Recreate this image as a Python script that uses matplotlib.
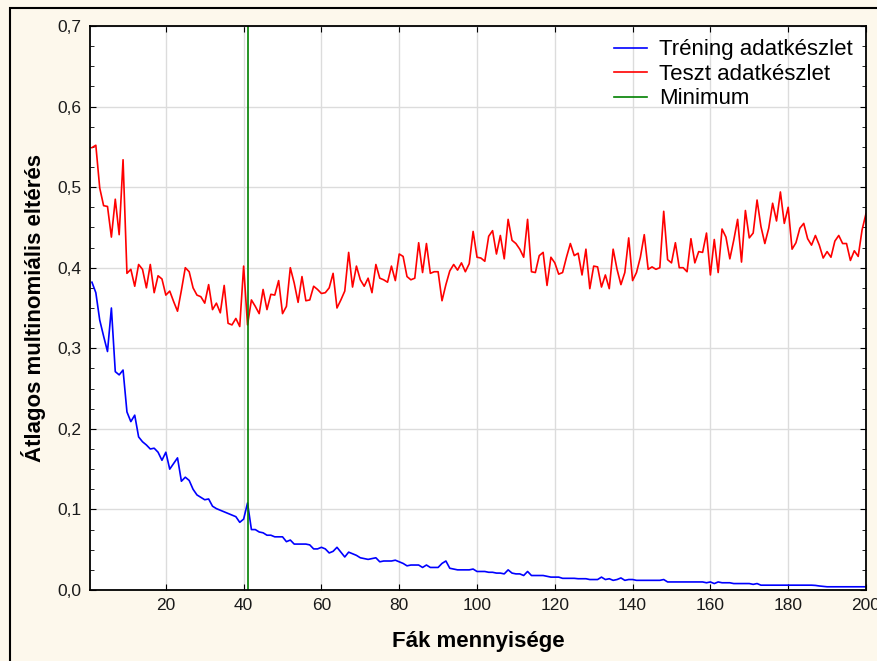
import numpy as np
import matplotlib.pyplot as plt
from matplotlib.ticker import FixedLocator, FuncFormatter, MultipleLocator
from matplotlib.patches import Rectangle

plt.rcParams['font.family'] = ['Liberation Sans', 'DejaVu Sans']

# number of trees in the forest
trees = list(range(1, 201))

# mean multinomial deviance on the training set
train = [0.382, 0.369, 0.335, 0.315, 0.296, 0.350, 0.271, 0.267, 0.273, 0.221,
         0.209, 0.217, 0.190, 0.184, 0.180, 0.175, 0.176, 0.171, 0.161, 0.171,
         0.150, 0.157, 0.164, 0.135, 0.140, 0.136, 0.125, 0.118, 0.115, 0.112,
         0.113, 0.104, 0.101, 0.099, 0.097, 0.095, 0.093, 0.091, 0.084, 0.088,
         0.108, 0.075, 0.075, 0.072, 0.071, 0.068, 0.068, 0.066, 0.066, 0.066,
         0.060, 0.062, 0.057, 0.057, 0.057, 0.057, 0.056, 0.051, 0.051, 0.053,
         0.051, 0.046, 0.048, 0.053, 0.047, 0.041, 0.047, 0.045, 0.043, 0.040,
         0.039, 0.038, 0.039, 0.040, 0.035, 0.036, 0.036, 0.036, 0.037, 0.035,
         0.033, 0.030, 0.031, 0.031, 0.031, 0.028, 0.031, 0.028, 0.028, 0.028,
         0.033, 0.036, 0.027, 0.026, 0.025, 0.025, 0.025, 0.025, 0.026, 0.023,
         0.023, 0.023, 0.022, 0.022, 0.021, 0.021, 0.020, 0.025, 0.021, 0.020,
         0.020, 0.018, 0.023, 0.018, 0.018, 0.018, 0.018, 0.017, 0.016, 0.016,
         0.016, 0.0145, 0.0145, 0.0145, 0.0145, 0.014, 0.014, 0.014, 0.013, 0.013,
         0.013, 0.016, 0.013, 0.014, 0.012, 0.013, 0.015, 0.012, 0.013, 0.013,
         0.012, 0.012, 0.012, 0.012, 0.012, 0.012, 0.012, 0.013, 0.010, 0.010,
         0.010, 0.010, 0.010, 0.010, 0.010, 0.010, 0.010, 0.010, 0.009, 0.010,
         0.008, 0.010, 0.009, 0.009, 0.009, 0.008, 0.008, 0.008, 0.008, 0.008,
         0.007, 0.008, 0.006, 0.006, 0.006, 0.006, 0.006, 0.006, 0.006, 0.006,
         0.006, 0.006, 0.006, 0.006, 0.006, 0.006, 0.0057, 0.005, 0.0045, 0.004,
         0.004, 0.004, 0.004, 0.004, 0.004, 0.004, 0.004, 0.004, 0.004, 0.004]

# mean multinomial deviance on the test set
test = [0.549, 0.552, 0.499, 0.477, 0.476, 0.438, 0.485, 0.441, 0.534, 0.393,
        0.398, 0.377, 0.404, 0.398, 0.375, 0.404, 0.369, 0.390, 0.386, 0.366,
        0.371, 0.358, 0.346, 0.372, 0.400, 0.395, 0.375, 0.366, 0.364, 0.356,
        0.379, 0.348, 0.356, 0.344, 0.378, 0.331, 0.329, 0.337, 0.327, 0.402,
        0.329, 0.360, 0.352, 0.343, 0.373, 0.348, 0.367, 0.366, 0.384, 0.343,
        0.352, 0.400, 0.381, 0.357, 0.389, 0.359, 0.360, 0.377, 0.373, 0.368,
        0.369, 0.375, 0.393, 0.350, 0.360, 0.371, 0.419, 0.376, 0.402, 0.385,
        0.377, 0.387, 0.369, 0.404, 0.387, 0.385, 0.382, 0.402, 0.384, 0.417,
        0.414, 0.389, 0.385, 0.387, 0.431, 0.394, 0.430, 0.393, 0.395, 0.395,
        0.359, 0.379, 0.396, 0.404, 0.397, 0.406, 0.395, 0.405, 0.445, 0.413,
        0.412, 0.408, 0.439, 0.446, 0.417, 0.440, 0.411, 0.460, 0.434, 0.430,
        0.423, 0.413, 0.460, 0.395, 0.394, 0.415, 0.419, 0.378, 0.413, 0.406,
        0.392, 0.394, 0.413, 0.430, 0.415, 0.418, 0.391, 0.423, 0.374, 0.402,
        0.401, 0.376, 0.391, 0.374, 0.423, 0.398, 0.379, 0.394, 0.437, 0.384,
        0.394, 0.413, 0.441, 0.398, 0.401, 0.398, 0.400, 0.470, 0.410, 0.406,
        0.431, 0.400, 0.400, 0.395, 0.436, 0.406, 0.420, 0.419, 0.443, 0.391,
        0.435, 0.394, 0.448, 0.438, 0.411, 0.434, 0.460, 0.407, 0.471, 0.437,
        0.443, 0.484, 0.451, 0.430, 0.449, 0.480, 0.458, 0.494, 0.455, 0.475,
        0.423, 0.431, 0.449, 0.455, 0.436, 0.428, 0.440, 0.428, 0.412, 0.420,
        0.413, 0.433, 0.440, 0.430, 0.430, 0.409, 0.421, 0.414, 0.447, 0.467]

best_trees = 41

x_ticks = [20, 40, 60, 80, 100, 120, 140, 160, 180, 200]
y_ticks = [0.0, 0.1, 0.2, 0.3, 0.4, 0.5, 0.6, 0.7]

bg = '#fdf8ec'
fig = plt.figure(figsize=(8.78, 6.61), dpi=100, facecolor=bg)
ax = fig.add_axes([0.1025, 0.1074, 0.8838, 0.8533])
ax.set_facecolor('white')

# outer frame around the figure
fig.patches.append(Rectangle((10 / 878, -0.05), 1.2, 1 - 8 / 661 + 0.05,
                             transform=fig.transFigure, fill=False,
                             edgecolor='black', linewidth=1.5, zorder=0))

ax.plot(trees, train, color='#0000ff', lw=1.2, label='Tréning adatkészlet')
ax.plot(trees, test, color='#ff0000', lw=1.2, label='Teszt adatkészlet')
ax.axvline(best_trees, color='#008000', lw=1.2, label='Minimum')

ax.set_xlim(0.5, 200)
ax.set_ylim(0, 0.7)
ax.xaxis.set_major_locator(FixedLocator(x_ticks))
ax.yaxis.set_major_locator(FixedLocator(y_ticks))
ax.yaxis.set_minor_locator(MultipleLocator(0.025))
ax.yaxis.set_major_formatter(FuncFormatter(lambda v, p: f'{v:.1f}'.replace('.', ',')))

ax.grid(True, which='major', color='#dcdcdc', lw=1.0)
ax.set_axisbelow(True)
ax.tick_params(which='both', direction='in', top=True, right=True,
               labelsize=12.5, colors='black', labelcolor='#1a1a1a')
ax.tick_params(which='major', length=4, pad=6)
ax.tick_params(which='minor', length=3)
for s in ax.spines.values():
    s.set_linewidth(1.3)

ax.set_xlabel('Fák mennyisége', fontsize=16, fontweight='bold', labelpad=13)
ax.set_ylabel('Átlagos multinomiális eltérés', fontsize=16, fontweight='bold',
              labelpad=8)

ax.legend(loc='upper right', frameon=False, fontsize=16, handlelength=1.45,
          labelspacing=0.16, borderaxespad=0.2, handletextpad=0.55)

fig.savefig('out.png', dpi=100, facecolor=bg)
